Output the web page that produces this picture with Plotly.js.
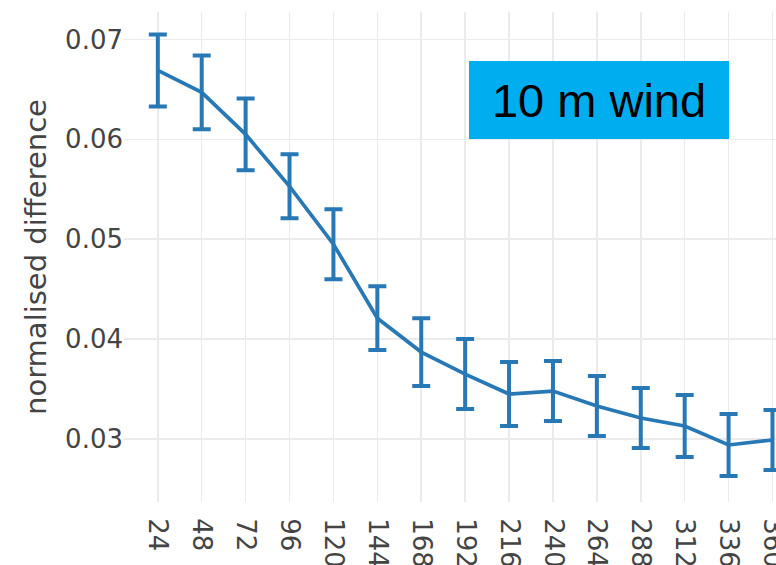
<!DOCTYPE html>
<html>
<head>
<meta charset="utf-8">
<script src="https://cdn.plot.ly/plotly-3.0.1.min.js"></script>
<style>html,body{margin:0;padding:0;background:#fff;}#chart{width:776px;height:565px;}</style>
</head>
<body>
<div id="chart"></div>
<script>
const leadTimes = ["24","48","72","96","120","144","168","192","216","240","264","288","312","336","360"];
const normDiff = [0.0669, 0.0647, 0.0605, 0.0553, 0.0495, 0.0421, 0.0387, 0.0365, 0.0345, 0.0348, 0.0333, 0.0321, 0.0313, 0.0294, 0.0299];
const errHalf = [0.0036, 0.0037, 0.0036, 0.0032, 0.0035, 0.0032, 0.0034, 0.0035, 0.0032, 0.0030, 0.0030, 0.0030, 0.0031, 0.0031, 0.0030];
const labelText = "10 m wind";

const trace = {
  type: "scatter",
  mode: "lines",
  x: leadTimes,
  y: normDiff,
  line: {color: "#2878b5", width: 3.7},
  error_y: {type: "data", array: errHalf, visible: true, color: "#2878b5", thickness: 4, width: 9},
  hoverinfo: "none"
};

const layout = {
  width: 776,
  height: 565,
  margin: {l: 124, r: 0, t: 12, b: 63, pad: 0},
  paper_bgcolor: "#ffffff",
  plot_bgcolor: "#ffffff",
  showlegend: false,
  font: {family: "DejaVu Sans, sans-serif", color: "#444444"},
  xaxis: {
    type: "category",
    range: [-0.77, 14.08],
    tickangle: 90,
    tickfont: {family: "DejaVu Sans, sans-serif", size: 26, color: "#444444"},
    showgrid: true,
    gridcolor: "#ebebeb",
    gridwidth: 1.5,
    zeroline: false,
    showline: false,
    ticks: "outside",
    ticklen: 10,
    tickcolor: "rgba(0,0,0,0)",
    automargin: false
  },
  yaxis: {
    range: [0.02369, 0.07275],
    tickvals: [0.03, 0.04, 0.05, 0.06, 0.07],
    ticktext: ["0.03", "0.04", "0.05", "0.06", "0.07"],
    tickfont: {family: "DejaVu Sans, sans-serif", size: 26, color: "#444444"},
    title: {text: "normalised difference", font: {family: "DejaVu Sans, sans-serif", size: 29, color: "#444444"}, standoff: 9},
    showgrid: true,
    gridcolor: "#ebebeb",
    gridwidth: 1.5,
    zeroline: false,
    showline: false,
    ticks: "",
    automargin: false
  },
  annotations: [{
    xref: "paper", yref: "paper",
    x: 0.529, y: 0.9,
    xanchor: "left", yanchor: "top",
    text: labelText,
    showarrow: false,
    bgcolor: "#00aeef",
    borderpad: 0,
    borderwidth: 0,
    width: 260,
    height: 78,
    align: "center",
    valign: "middle",
    font: {family: "Liberation Sans, Arial, sans-serif", size: 47, color: "#000000"}
  }]
};

Plotly.newPlot("chart", [trace], layout, {staticPlot: true, displayModeBar: false});
</script>
</body>
</html>
